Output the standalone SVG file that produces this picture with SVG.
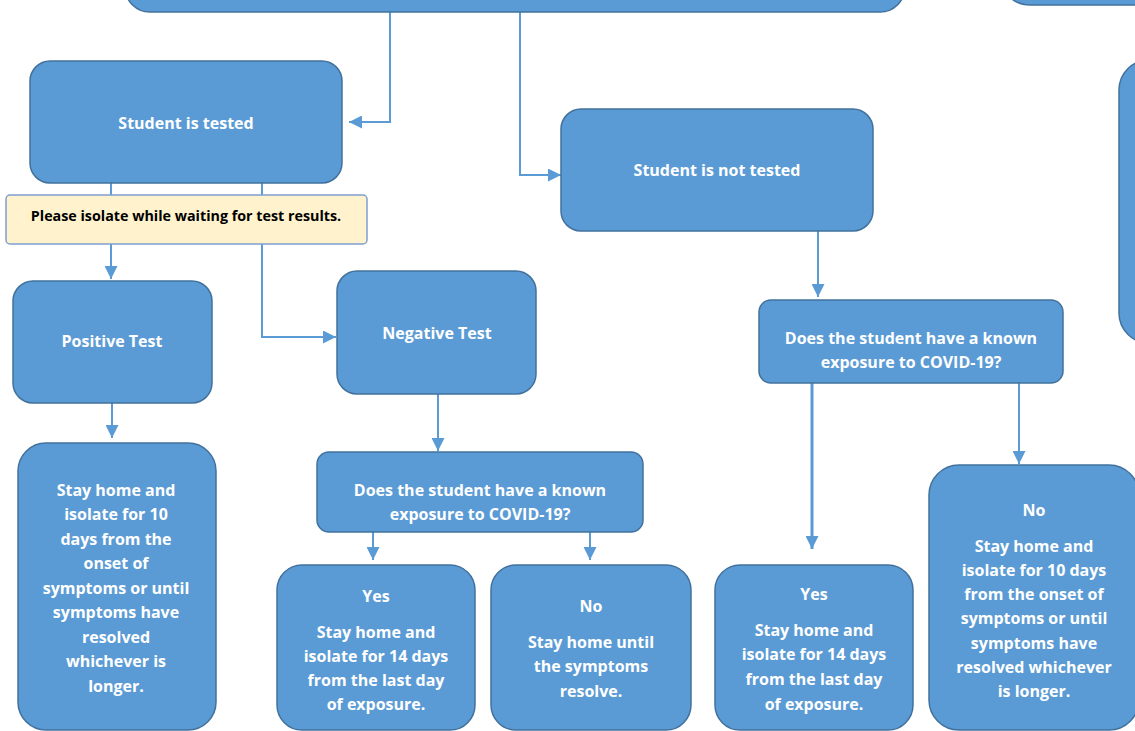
<svg xmlns="http://www.w3.org/2000/svg" width="1135" height="731" viewBox="0 0 1135 731">
<style>
.n{fill:#5B9BD5;stroke:#41719C;stroke-width:1.5}
.t{font-family:"Open Sans","Noto Sans",sans-serif;font-weight:700;font-size:16px;fill:#fff;text-anchor:middle}
.y{fill:#FFF2CC;stroke:#7F9FCF;stroke-width:1.5}
.yt{font-family:"Open Sans","Noto Sans",sans-serif;font-weight:700;font-size:14.3px;fill:#000;text-anchor:middle}
.c{fill:none;stroke:#5B9BD5;stroke-width:2}
</style>
<defs>
<marker id="ah" viewBox="0 0 10 10" refX="10" refY="5" markerWidth="13" markerHeight="13" markerUnits="userSpaceOnUse" orient="auto">
<path d="M0,0 L10,5 L0,10 z" fill="#5B9BD5"/>
</marker>
</defs>
<rect width="1135" height="731" fill="#fff"/>
<g id="connectors">
<path class="c" d="M390,12 V122 H349" marker-end="url(#ah)"/>
<path class="c" d="M520,12 V175 H561" marker-end="url(#ah)"/>
<path class="c" d="M111,183 V279" marker-end="url(#ah)"/>
<path class="c" d="M262,183 V337 H336" marker-end="url(#ah)"/>
<path class="c" d="M112,403 V438" marker-end="url(#ah)"/>
<path class="c" d="M438,394 V451" marker-end="url(#ah)"/>
<path class="c" d="M373,532 V560" marker-end="url(#ah)"/>
<path class="c" d="M590,532 V560" marker-end="url(#ah)"/>
<path class="c" d="M818,231 V297" marker-end="url(#ah)"/>
<path class="c" style="stroke-width:3" d="M812,383 V549" marker-end="url(#ah)"/>
<path class="c" d="M1019,383 V464" marker-end="url(#ah)"/>
</g>
<g id="top-box"><rect class="n" x="125" y="-60" width="780" height="72" rx="25"/></g>
<g id="top-right-box"><rect class="n" x="1000" y="-60" width="200" height="65" rx="30"/></g>
<g id="right-box"><rect class="n" x="1119" y="60" width="100" height="283" rx="30"/></g>
<g id="tested">
<rect class="n" x="30" y="61" width="312" height="122" rx="20"/>
<text class="t" x="186" y="129">Student is tested</text>
</g>
<g id="isolate-note">
<rect class="y" x="6" y="195" width="361" height="49" rx="4"/>
<text class="yt" x="186" y="221">Please isolate while waiting for test results.</text>
</g>
<g id="not-tested">
<rect class="n" x="561" y="109" width="312" height="122" rx="20"/>
<text class="t" x="717" y="176">Student is not tested</text>
</g>
<g id="positive">
<rect class="n" x="13" y="281" width="199" height="122" rx="20"/>
<text class="t" x="112" y="347">Positive Test</text>
</g>
<g id="negative">
<rect class="n" x="337" y="271" width="199" height="123" rx="20"/>
<text class="t" x="437" y="339">Negative Test</text>
</g>
<g id="positive-result">
<rect class="n" x="18" y="443" width="198" height="287" rx="28"/>
<text class="t" x="116"><tspan x="116" y="496">Stay home and</tspan><tspan x="116" y="520">isolate for 10</tspan><tspan x="116" y="545">days from the</tspan><tspan x="116" y="569">onset of</tspan><tspan x="116" y="594">symptoms or until</tspan><tspan x="116" y="618">symptoms have</tspan><tspan x="116" y="643">resolved</tspan><tspan x="116" y="667">whichever is</tspan><tspan x="116" y="692">longer.</tspan></text>
</g>
<g id="exposure-1">
<rect class="n" x="317" y="452" width="326" height="80" rx="12"/>
<text class="t"><tspan x="480" y="496">Does the student have a known</tspan><tspan x="480" y="520">exposure to COVID-19?</tspan></text>
</g>
<g id="yes-1">
<rect class="n" x="277" y="565" width="198" height="165" rx="25"/>
<text class="t"><tspan x="376" y="602">Yes</tspan><tspan x="376" y="638">Stay home and</tspan><tspan x="376" y="662">isolate for 14 days</tspan><tspan x="376" y="686">from the last day</tspan><tspan x="376" y="710">of exposure.</tspan></text>
</g>
<g id="no-1">
<rect class="n" x="491" y="565" width="200" height="165" rx="25"/>
<text class="t"><tspan x="591" y="612">No</tspan><tspan x="591" y="648">Stay home until</tspan><tspan x="591" y="672">the symptoms</tspan><tspan x="591" y="697">resolve.</tspan></text>
</g>
<g id="exposure-2">
<rect class="n" x="759" y="300" width="304" height="83" rx="12"/>
<text class="t"><tspan x="911" y="344">Does the student have a known</tspan><tspan x="911" y="368">exposure to COVID-19?</tspan></text>
</g>
<g id="yes-2">
<rect class="n" x="715" y="565" width="198" height="165" rx="25"/>
<text class="t"><tspan x="814" y="600">Yes</tspan><tspan x="814" y="636">Stay home and</tspan><tspan x="814" y="660">isolate for 14 days</tspan><tspan x="814" y="685">from the last day</tspan><tspan x="814" y="710">of exposure.</tspan></text>
</g>
<g id="no-2">
<rect class="n" x="929" y="465" width="210" height="265" rx="30"/>
<text class="t"><tspan x="1034" y="516">No</tspan><tspan x="1034" y="552">Stay home and</tspan><tspan x="1034" y="576">isolate for 10 days</tspan><tspan x="1034" y="600">from the onset of</tspan><tspan x="1034" y="624">symptoms or until</tspan><tspan x="1034" y="649">symptoms have</tspan><tspan x="1034" y="673">resolved whichever</tspan><tspan x="1034" y="697">is longer.</tspan></text>
</g>
</svg>
